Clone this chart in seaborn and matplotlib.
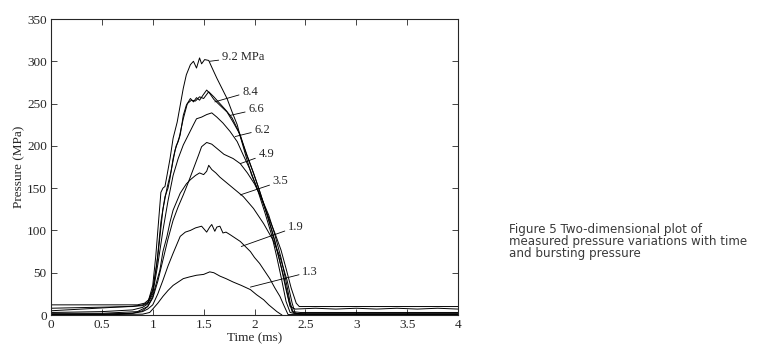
import pandas as pd
import matplotlib
matplotlib.use('Agg')
import matplotlib.pyplot as plt
from matplotlib.ticker import FuncFormatter
import seaborn as sns

# curves, time in ms, pressure in MPa
t_92 = [0.0, 0.3, 0.6, 0.85, 0.92, 0.96, 1.0, 1.03, 1.06, 1.08, 1.1, 1.12, 1.14, 1.17, 1.2, 1.24, 1.27, 1.3,
        1.33, 1.37, 1.4, 1.43, 1.46, 1.48, 1.51, 1.55, 1.58, 1.63, 1.68, 1.73, 1.78, 1.83, 1.87, 1.92, 1.97,
        2.05, 2.13, 2.2, 2.26, 2.31, 2.36, 2.41, 2.44, 2.47, 2.8, 3.2, 3.6, 4.0]
p_92 = [12, 12, 12, 12, 14, 18, 35, 70, 115, 145, 150, 152, 165, 185, 209, 228, 248, 268,
        284, 296, 300, 292, 304, 297, 302, 301, 293, 280, 268, 256, 240, 225, 207, 186, 166,
        143, 118, 97, 77, 55, 32, 14, 10, 10, 10, 10, 10, 10]

t_84 = [0.0, 0.4, 0.8, 0.9, 0.95, 1.0, 1.04, 1.08, 1.12, 1.15, 1.17, 1.2, 1.23, 1.25, 1.27, 1.3, 1.33, 1.37,
        1.4, 1.43, 1.46, 1.5, 1.53, 1.56, 1.6, 1.66, 1.73, 1.79, 1.86, 1.92, 1.99, 2.06, 2.13, 2.2, 2.26,
        2.31, 2.35, 2.4, 2.6, 2.8, 3.0, 3.2, 3.4, 3.6, 3.8, 4.0]
p_84 = [8, 9, 10, 12, 15, 30, 60, 110, 140, 150, 162, 185, 200, 205, 213, 236, 248, 256,
        252, 257, 254, 261, 266, 262, 255, 248, 240, 228, 213, 190, 168, 143, 116, 88, 58,
        30, 10, 7, 8, 7, 8, 7, 8, 7, 8, 7]

t_66 = [0.0, 0.3, 0.6, 0.9, 0.95, 1.0, 1.05, 1.1, 1.14, 1.18, 1.22, 1.26, 1.3, 1.34, 1.38, 1.42, 1.46, 1.5,
        1.55, 1.6, 1.66, 1.72, 1.78, 1.84, 1.9, 1.96, 2.03, 2.1, 2.17, 2.23, 2.29, 2.34, 2.37, 2.45, 3.0, 4.0]
p_66 = [5, 7, 9, 11, 14, 28, 70, 125, 150, 170, 195, 210, 232, 250, 254, 253, 258, 256,
        264, 258, 250, 242, 233, 218, 198, 178, 154, 128, 100, 72, 44, 16, 4, 3, 3, 3]

t_62 = [0.0, 0.5, 0.8, 0.9, 0.95, 1.0, 1.05, 1.1, 1.15, 1.2, 1.25, 1.3, 1.35, 1.4, 1.43, 1.48, 1.53, 1.58,
        1.63, 1.69, 1.76, 1.83, 1.89, 1.96, 2.03, 2.1, 2.17, 2.22, 2.27, 2.31, 2.35, 2.4, 3.0, 4.0]
p_62 = [3, 4, 6, 9, 13, 25, 60, 100, 135, 165, 185, 201, 213, 225, 232, 234, 237, 239,
        234, 227, 217, 205, 189, 171, 148, 122, 94, 68, 40, 16, 3, 1.5, 1.5, 1.5]

t_49 = [0.0, 0.5, 0.8, 0.9, 0.95, 1.0, 1.05, 1.1, 1.15, 1.2, 1.25, 1.3, 1.35, 1.4, 1.45, 1.48, 1.53, 1.58,
        1.63, 1.7, 1.79, 1.86, 1.93, 2.0, 2.07, 2.14, 2.2, 2.26, 2.31, 2.35, 2.38, 2.45, 4.0]
p_49 = [1, 1, 2, 5, 10, 20, 40, 65, 90, 112, 128, 142, 157, 173, 189, 199, 204, 202,
        197, 190, 185, 179, 168, 155, 138, 118, 95, 68, 40, 15, 3, 1, 1]

t_35 = [0.0, 0.5, 0.85, 0.95, 1.0, 1.04, 1.07, 1.1, 1.14, 1.17, 1.2, 1.27, 1.33, 1.37, 1.42, 1.46, 1.5, 1.53,
        1.55, 1.58, 1.62, 1.66, 1.72, 1.79, 1.89, 1.99, 2.09, 2.18, 2.25, 2.32, 2.37, 2.4, 2.5, 4.0]
p_35 = [2, 2, 4, 10, 22, 40, 53, 75, 93, 110, 124, 144, 155, 160, 165, 168, 166, 170,
        177, 172, 168, 163, 157, 150, 140, 126, 108, 89, 69, 41, 14, 2, 1, 1]

t_19 = [0.0, 0.5, 0.8, 0.9, 0.95, 1.0, 1.05, 1.1, 1.15, 1.2, 1.27, 1.32, 1.37, 1.42, 1.48, 1.53, 1.56, 1.58,
        1.61, 1.63, 1.66, 1.69, 1.72, 1.76, 1.81, 1.86, 1.91, 1.96, 2.0, 2.05, 2.1, 2.15, 2.2, 2.25, 2.29,
        2.33, 4.0]
p_19 = [0.5, 1, 2, 4, 7, 12, 25, 41, 58, 73, 93, 98, 100, 103, 105, 98, 104, 107,
        99, 104, 105, 97, 98, 95, 91, 87, 81, 75, 68, 61, 52, 43, 32, 22, 11,
        0.5, 0.5]

t_13 = [0.0, 0.6, 0.9, 0.97, 1.0, 1.05, 1.1, 1.15, 1.2, 1.25, 1.3, 1.36, 1.43, 1.5, 1.56, 1.6, 1.66, 1.72,
        1.79, 1.87, 1.96, 2.02, 2.09, 2.14, 2.18, 2.22, 2.27]
p_13 = [0.5, 0.5, 1, 3, 7, 14, 22, 29, 35, 39, 43, 45, 47, 48, 51, 50, 46, 43,
        39, 35, 30, 24, 18, 12, 8, 4, 0]

curve_names = ['9.2 MPa', '8.4', '6.6', '6.2', '4.9', '3.5', '1.9', '1.3']
curve_t = [t_92, t_84, t_66, t_62, t_49, t_35, t_19, t_13]
curve_p = [p_92, p_84, p_66, p_62, p_49, p_35, p_19, p_13]

# leader lines: point on curve -> label position
leader_from = [(1.56, 300), (1.61, 252), (1.76, 236), (1.81, 211), (1.86, 179), (1.86, 142), (1.87, 81), (1.96, 33)]
leader_to = [(1.68, 305), (1.88, 264), (1.94, 243), (2.0, 219), (2.04, 190), (2.18, 158), (2.33, 104), (2.47, 51)]

frames = []
for name, t, p in zip(curve_names, curve_t, curve_p):
    frames.append(pd.DataFrame({'Time': t, 'Pressure': p, 'curve': name}))
df = pd.concat(frames, ignore_index=True)

sns.set_style('ticks')
plt.rcParams['font.family'] = ['Liberation Serif', 'DejaVu Serif']

fig = plt.figure(figsize=(7.62, 3.45), dpi=100)
ax = fig.add_axes([51 / 762, 1 - 315 / 345, 407 / 762, 296 / 345])

sns.lineplot(data=df, x='Time', y='Pressure', units='curve', estimator=None, sort=False,
             color='black', linewidth=0.7, ax=ax)

for name, a, b in zip(curve_names, leader_from, leader_to):
    ax.annotate(name, xy=a, xytext=b, fontsize=9, va='center', ha='left',
                arrowprops=dict(arrowstyle='-', color='black', lw=0.6, shrinkA=0, shrinkB=0))

ax.set_xlim(0, 4)
ax.set_ylim(0, 350)
ax.set_xticks([0, 0.5, 1, 1.5, 2, 2.5, 3, 3.5, 4])
ax.set_yticks(range(0, 351, 50))
ax.xaxis.set_major_formatter(FuncFormatter(lambda v, pos: '%g' % v))
ax.tick_params(direction='in', top=True, right=True, length=4, width=0.6, labelsize=9.5, pad=3)
for s in ax.spines.values():
    s.set_linewidth(0.8)
    s.set_visible(True)
ax.set_xlabel('Time (ms)', fontsize=9.5, labelpad=1)
ax.set_ylabel('Pressure (MPa)', fontsize=9.5, va='center')
ax.yaxis.set_label_coords(-(51 - 19) / 407, 0.5)

caption = ['Figure 5 Two-dimensional plot of',
           'measured pressure variations with time',
           'and bursting pressure']
for i, line in enumerate(caption):
    fig.text(509 / 762, 1 - (233.5 + 11.8 * i) / 345, line, family='DejaVu Sans',
             fontsize=8.6, color='#3a3a3a', va='baseline', ha='left')

fig.savefig('out.png', dpi=100)
